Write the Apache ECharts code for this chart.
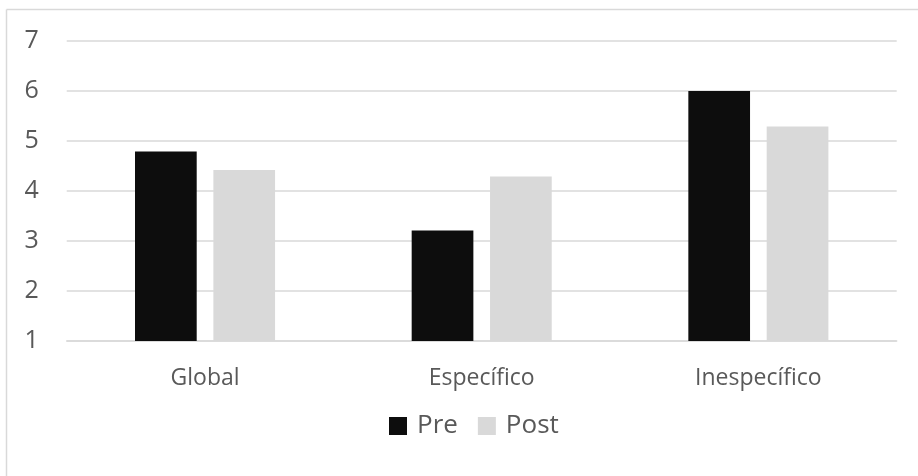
<!DOCTYPE html>
<html>
<head>
<meta charset="utf-8">
<script src="https://cdn.jsdelivr.net/npm/echarts@6/dist/echarts.min.js"></script>
<style>
html,body{margin:0;padding:0;background:#fff;}
#c{width:918px;height:476px;}
</style>
</head>
<body>
<div id="c"></div>
<script>
var categories = ['Global', 'Específico', 'Inespecífico'];
var preValues = [4.79, 3.21, 6.0];
var postValues = [4.42, 4.29, 5.29];
var seriesNames = ['Pre', 'Post'];
var yTicks = [1, 2, 3, 4, 5, 6, 7];

var FONT = '"Open Sans", "Noto Sans", sans-serif';
var chart = echarts.init(document.getElementById('c'), null, {renderer: 'canvas'});
chart.setOption({
  backgroundColor: '#ffffff',
  animation: false,
  graphic: [
    {type: 'line', shape: {x1: 6.5, y1: 9.5, x2: 918, y2: 9.5}, style: {stroke: '#d9d9d9', lineWidth: 1.5}, silent: true},
    {type: 'line', shape: {x1: 6.5, y1: 9.5, x2: 6.5, y2: 476}, style: {stroke: '#d9d9d9', lineWidth: 1.5}, silent: true}
  ],
  grid: {left: 66.7, right: 21.3, top: 41, bottom: 135, containLabel: false},
  legend: {
    data: seriesNames,
    left: 389,
    top: 413,
    padding: 0,
    itemWidth: 18,
    itemHeight: 18,
    itemGap: 20,
    icon: 'rect',
    textStyle: {fontFamily: FONT, fontSize: 26, color: '#595959', padding: [0, 0, 0, 5]}
  },
  xAxis: {
    type: 'category',
    data: categories,
    axisTick: {show: false},
    axisLine: {show: true, lineStyle: {color: '#d9d9d9', width: 1.5}},
    axisLabel: {fontFamily: FONT, fontSize: 23, color: '#595959', margin: 26}
  },
  yAxis: {
    type: 'value',
    min: yTicks[0],
    max: yTicks[yTicks.length - 1],
    interval: 1,
    axisLine: {show: false},
    axisTick: {show: false},
    splitLine: {lineStyle: {color: '#d9d9d9', width: 1.5}},
    axisLabel: {fontFamily: FONT, fontSize: 25, color: '#595959', margin: 28}
  },
  series: [
    {name: seriesNames[0], type: 'bar', data: preValues, barWidth: '22.3%', barGap: '27%',
     itemStyle: {color: '#0d0d0d'}},
    {name: seriesNames[1], type: 'bar', data: postValues, barWidth: '22.3%',
     itemStyle: {color: '#d9d9d9'}}
  ]
});
</script>
</body>
</html>
